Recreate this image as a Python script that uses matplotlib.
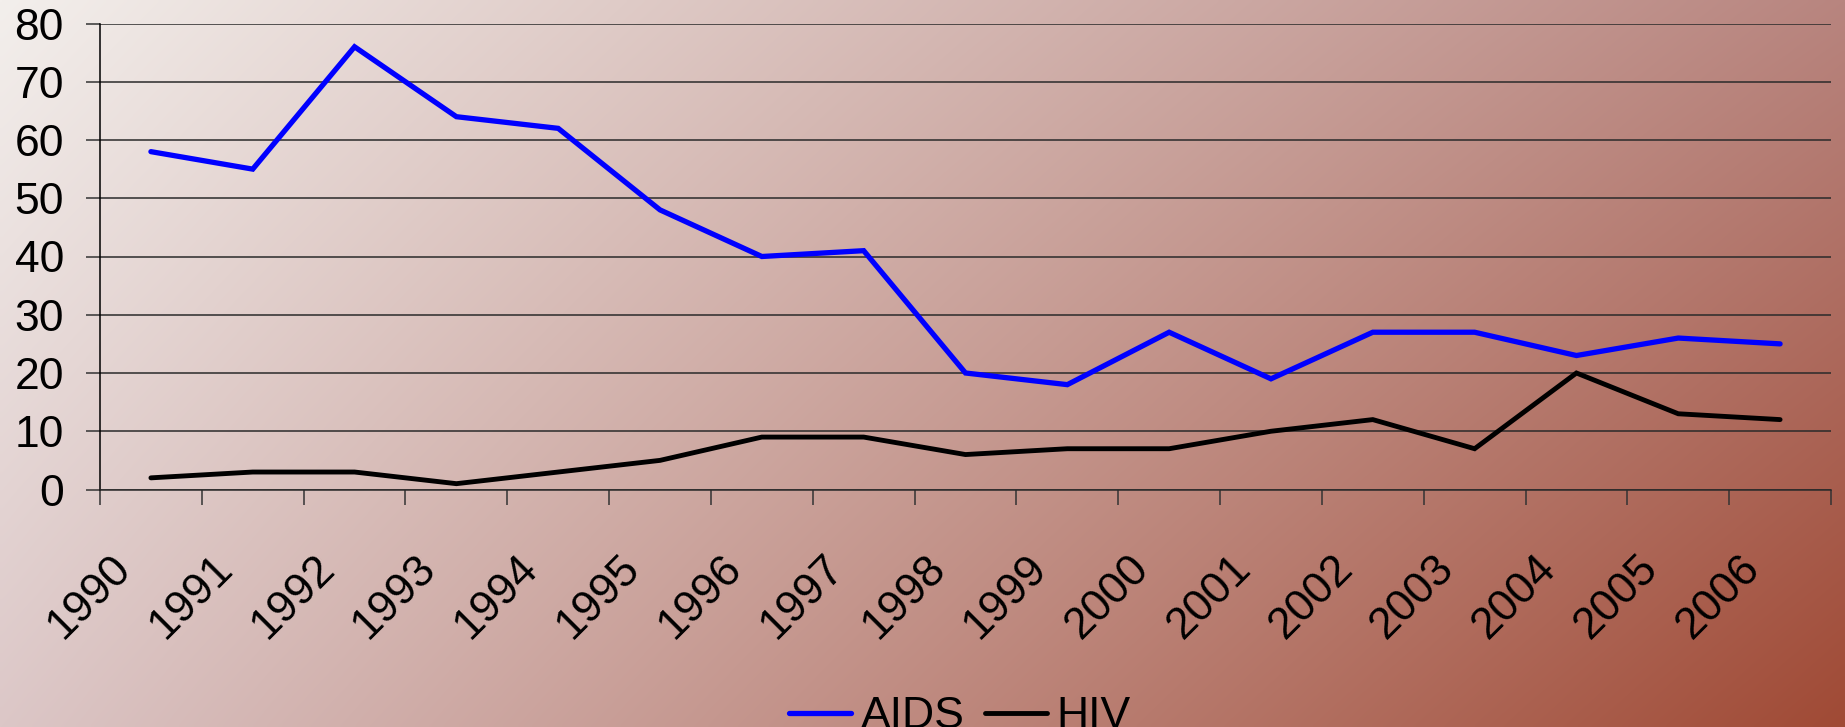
import numpy as np
import matplotlib
matplotlib.use("Agg")
import matplotlib.pyplot as plt
from matplotlib.transforms import ScaledTranslation

plt.rcParams['font.family'] = ['Liberation Sans', 'DejaVu Sans']

years = ["1990", "1991", "1992", "1993", "1994", "1995", "1996", "1997", "1998",
         "1999", "2000", "2001", "2002", "2003", "2004", "2005", "2006"]
aids = [58, 55, 76, 64, 62, 48, 40, 41, 20, 18, 27, 19, 27, 27, 23, 26, 25]
hiv = [2, 3, 3, 1, 3, 5, 9, 9, 6, 7, 7, 10, 12, 7, 20, 13, 12]
yticks = [0, 10, 20, 30, 40, 50, 60, 70, 80]

W, H, DPI = 18.45, 7.27, 100
fig = plt.figure(figsize=(W, H), dpi=DPI)

# background gradient
tl = np.array([243, 239, 236]) / 255
tr = np.array([184, 133, 127]) / 255
bl = np.array([220, 199, 199]) / 255
br = np.array([160, 74, 53]) / 255
ny, nx = 200, 400
u = np.linspace(0, 1, nx)[None, :, None]
v = np.linspace(0, 1, ny)[:, None, None]
grad = (1 - u) * (1 - v) * tl + u * (1 - v) * tr + (1 - u) * v * bl + u * v * br
bg = fig.add_axes([0, 0, 1, 1], zorder=-10)
bg.imshow(grad, aspect='auto', extent=[0, 1, 0, 1], interpolation='bilinear')
bg.axis('off')

left, right = 100 / 1845, 1831 / 1845
bottom, top = 1 - 489.5 / 727, 1 - 23.5 / 727
ax = fig.add_axes([left, bottom, right - left, top - bottom])
ax.set_facecolor('none')

x = np.arange(len(years))
ax.plot(x, aids, color='#0000FF', lw=3.8, label='AIDS', solid_joinstyle='miter', solid_capstyle='round')
ax.plot(x, hiv, color='black', lw=3.5, label='HIV', solid_joinstyle='miter', solid_capstyle='round')

ax.set_xlim(-0.5, len(years) - 0.5)
ax.set_ylim(0, 80)
ax.set_yticks(yticks)
ax.set_yticklabels([str(t) for t in yticks], fontsize=32)
ax.tick_params(axis='y', length=10, width=1.1, color='#333333', pad=16)
ax.grid(axis='y', color='#2a2a2a', lw=1.1)
ax.set_axisbelow(True)

# major x ticks at category edges (marks only)
ax.set_xticks(np.arange(-0.5, len(years), 1.0))
ax.set_xticklabels([])
ax.tick_params(axis='x', which='major', length=11, width=1.1, color='#333333', direction='out')
# labels at category centers
ax.set_xticks(x, minor=True)
ax.set_xticklabels(years, minor=True, fontsize=32)
ax.tick_params(axis='x', which='minor', length=0, pad=42)
off = ScaledTranslation(-41 / DPI, 0, fig.dpi_scale_trans)
for lab in ax.get_xticklabels(minor=True):
    lab.set_rotation(45)
    lab.set_ha('right')
    lab.set_va('top')
    lab.set_rotation_mode('anchor')
    lab.set_transform(lab.get_transform() + off)

for s in ['top', 'right']:
    ax.spines[s].set_visible(False)
ax.spines['left'].set_color('black')
ax.spines['left'].set_linewidth(1.1)
ax.spines['bottom'].set_color('#2a2a2a')
ax.spines['bottom'].set_linewidth(1.1)

fig.legend(loc='center', bbox_to_anchor=(960 / 1845, 10 / 727), ncol=2, frameon=False,
           fontsize=32, handlelength=1.4, handletextpad=0.22, columnspacing=0.45,
           borderaxespad=0, borderpad=0)

fig.savefig('out.png', dpi=DPI)
